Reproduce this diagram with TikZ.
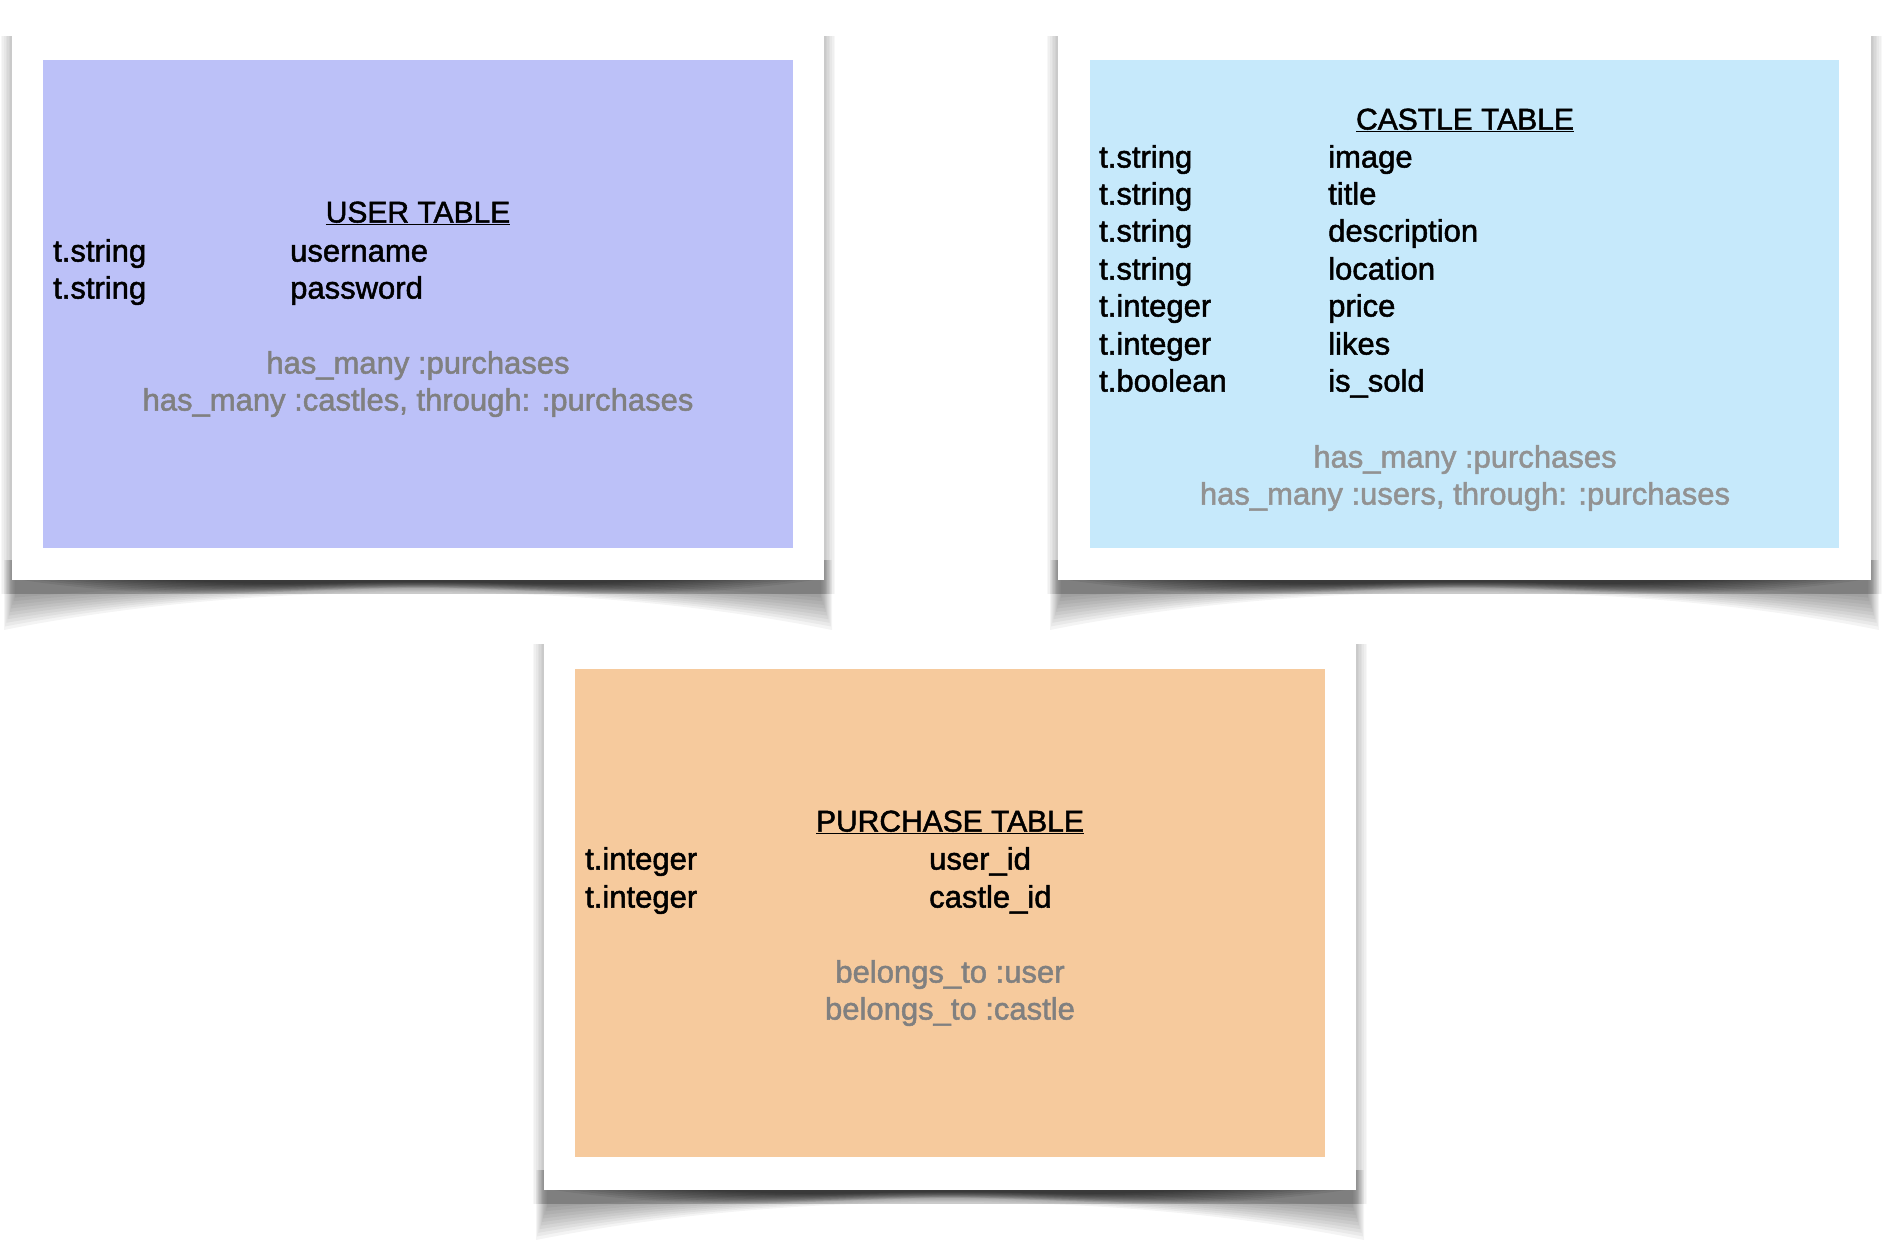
\documentclass[tikz,border=0pt]{standalone}
\usepackage{fontspec}
\setmainfont{Liberation Sans}[FakeBold=1.6]
\definecolor{userblue}{RGB}{188,193,248}
\definecolor{castleblue}{RGB}{198,233,251}
\definecolor{purchorange}{RGB}{246,202,157}
\definecolor{relgray}{RGB}{128,128,128}
\definecolor{relgraylight}{RGB}{146,146,146}
\newcommand\cardshadow[4]{%
  % side glow
  \foreach \k in {1,...,7}{
    \fill[black,opacity=0.03] ({#1-\k*1.6},{#2+3}) rectangle ({#3+\k*1.6},{#4+14});
  }
  % wide light shadow (corners)
  \foreach \i in {0,...,9}{
    \pgfmathsetmacro\ee{50-3.6*\i}
    \pgfmathsetmacro\mm{12-1.1*\i}
    \pgfmathsetmacro\cc{(\mm-0.25*\ee)/0.75}
    \fill[black,opacity=0.045]
      ({#1-8+\i*1.2},{#4-20}) -- ({#1-8+\i*1.2},{#4+\ee})
      .. controls ({#1+(#3-#1)*0.3},{#4+\cc}) and ({#1+(#3-#1)*0.7},{#4+\cc}) ..
      ({#3+8-\i*1.2},{#4+\ee}) -- ({#3+8-\i*1.2},{#4-20}) -- cycle;
  }
  % dark core, tapered ends
  \foreach \j in {0,...,9}{
    \pgfmathsetmacro\dd{24-1.8*\j}
    \pgfmathsetmacro\mm{8-0.65*\j}
    \pgfmathsetmacro\aa{10+16*\j}
    \pgfmathsetmacro\xm{(#1+#3)/2}
    \pgfmathsetmacro\ww{#3-#1}
    \fill[black,opacity=0.07]
      ({#1+\aa},{#4-20}) -- ({#1+\aa},{#4})
      .. controls ({#1+\aa+0.2*\ww},{#4+\dd}) and ({\xm-0.15*\ww},{#4+\mm}) .. ({\xm},{#4+\mm})
      .. controls ({\xm+0.15*\ww},{#4+\mm}) and ({#3-\aa-0.2*\ww},{#4+\dd}) .. ({#3-\aa},{#4})
      -- ({#3-\aa},{#4-20}) -- cycle;
  }
}
\tikzset{
  cell/.style={anchor=west, inner sep=0pt, text height=0.72em, text depth=0.21em,
    font=\fontsize{31}{37}\selectfont},
  ttl/.style={anchor=center, inner sep=0pt, text height=0.72em, text depth=0.21em,
    font=\fontsize{30}{36}\selectfont},
  rel/.style={anchor=center, inner sep=0pt, text height=0.72em, text depth=0.21em,
    font=\fontsize{31}{37}\selectfont, text=relgray},
}
\begin{document}
\begin{tikzpicture}[x=1pt,y=-1pt]
\useasboundingbox[fill=white] (0,0) rectangle (1890,1250);
% shadows
\cardshadow{12}{33}{824}{580}
\cardshadow{1058}{33}{1871}{580}
\cardshadow{544}{641}{1356}{1190}
% frames
\fill[white] (12,33) rectangle (824,580);
\fill[white] (1058,33) rectangle (1871,580);
\fill[white] (544,641) rectangle (1356,1190);
% panels
\fill[userblue] (43,60) rectangle (793,548);
\fill[castleblue] (1090,60) rectangle (1839,548);
\fill[purchorange] (575,669) rectangle (1325,1157);

% USER TABLE
\node[ttl] (utitle) at (418,220) {\underline{USER TABLE}};
\node[cell] (ua1) at (53,259) {t.string};
\node[cell] (ub1) at (290,259) {username};
\node[cell] (ua2) at (53,296) {t.string};
\node[cell] (ub2) at (290,296) {password};
\node[rel] (ur1) at (418,371) {has\_many :purchases};
\node[rel] (ur2) at (418,408) {has\_many :castles, through: :purchases};

% CASTLE TABLE
\node[ttl] (ctitle) at (1465,127) {\underline{CASTLE TABLE}};
\node[cell] (ca1) at (1099,165) {t.string};
\node[cell] (cb1) at (1328,165) {image};
\node[cell] (ca2) at (1099,202) {t.string};
\node[cell] (cb2) at (1328,202) {title};
\node[cell] (ca3) at (1099,239) {t.string};
\node[cell] (cb3) at (1328,239) {description};
\node[cell] (ca4) at (1099,277) {t.string};
\node[cell] (cb4) at (1328,277) {location};
\node[cell] (ca5) at (1099,314) {t.integer};
\node[cell] (cb5) at (1328,314) {price};
\node[cell] (ca6) at (1099,352) {t.integer};
\node[cell] (cb6) at (1328,352) {likes};
\node[cell] (ca7) at (1099,389) {t.boolean};
\node[cell] (cb7) at (1328,389) {is\_sold};
\node[rel,text=relgraylight] (cr1) at (1465,465) {has\_many :purchases};
\node[rel,text=relgraylight] (cr2) at (1465,502) {has\_many :users, through: :purchases};

% PURCHASE TABLE
\node[ttl] (ptitle) at (950,829) {\underline{PURCHASE TABLE}};
\node[cell] (pa1) at (585,867) {t.integer};
\node[cell] (pb1) at (929,867) {user\_id};
\node[cell] (pa2) at (585,905) {t.integer};
\node[cell] (pb2) at (929,905) {castle\_id};
\node[rel] (pr1) at (950,980) {belongs\_to :user};
\node[rel] (pr2) at (950,1017) {belongs\_to :castle};
\end{tikzpicture}
\end{document}
